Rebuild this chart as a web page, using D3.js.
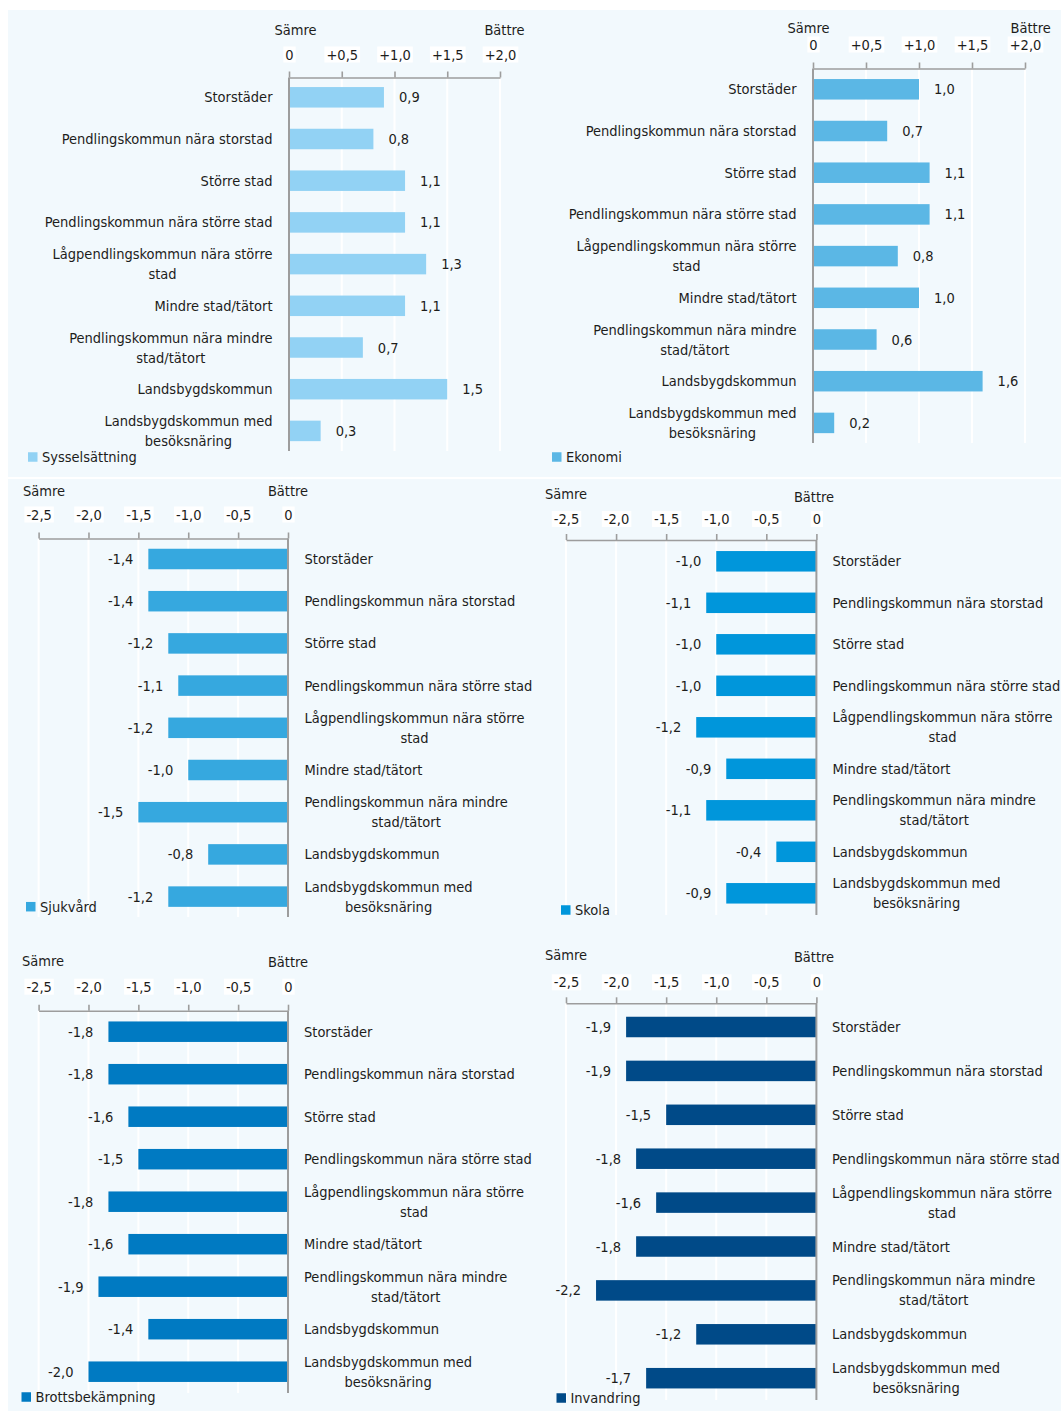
<!DOCTYPE html>
<html><head><meta charset="utf-8">
<script src="https://cdn.jsdelivr.net/npm/d3@7"></script>
<style>
body{margin:0;background:#fff;}
svg{display:block;}
text{font-family:"DejaVu Sans Condensed","Liberation Sans Narrow",sans-serif;font-size:14.5px;fill:#1d1d1b;}
</style></head><body>
<svg id="chart" width="1061" height="1411"></svg>
<script>
const categories = ["Storstäder","Pendlingskommun nära storstad","Större stad","Pendlingskommun nära större stad","Lågpendlingskommun nära större stad","Mindre stad/tätort","Pendlingskommun nära mindre stad/tätort","Landsbygdskommun","Landsbygdskommun med besöksnäring"];
const sysselsattning = [0.9,0.8,1.1,1.1,1.3,1.1,0.7,1.5,0.3];
const ekonomi        = [1.0,0.7,1.1,1.1,0.8,1.0,0.6,1.6,0.2];
const sjukvard       = [-1.4,-1.4,-1.2,-1.1,-1.2,-1.0,-1.5,-0.8,-1.2];
const skola          = [-1.0,-1.1,-1.0,-1.0,-1.2,-0.9,-1.1,-0.4,-0.9];
const brottsbekampning = [-1.8,-1.8,-1.6,-1.5,-1.8,-1.6,-1.9,-1.4,-2.0];
const invandring     = [-1.9,-1.9,-1.5,-1.8,-1.6,-1.8,-2.2,-1.2,-1.7];
const seriesNames = ["Sysselsättning","Ekonomi","Sjukvård","Skola","Brottsbekämpning","Invandring"];
const positiveTicks = [0,0.5,1,1.5,2];
const positiveTickLabels = ["0","+0,5","+1,0","+1,5","+2,0"];
const negativeTicks = [-2.5,-2,-1.5,-1,-0.5,0];
const negativeTickLabels = ["-2,5","-2,0","-1,5","-1,0","-0,5","0"];
const worseLabel = "Sämre";
const betterLabel = "Bättre";

const panels = [
 {name:seriesNames[0], values:sysselsattning, color:"#92d2f4", pos:true,  x0:289,  x1:500,   axisY:77.5,  tdy:23, worse:[295.5,30],  better:[504.5,30],  firstY:97.3,  step:41.7, bottom:451,  labelX:272.5, legend:[28,457]},
 {name:seriesNames[1], values:ekonomi,        color:"#5bb7e5", pos:true,  x0:813,  x1:1025,  axisY:68.5,  tdy:24, worse:[808.6,28],  better:[1030.6,28], firstY:89.3,  step:41.7, bottom:443,  labelX:796.5, legend:[552,457]},
 {name:seriesNames[2], values:sjukvard,       color:"#36a8df", pos:false, x0:38.6, x1:288,   axisY:538.5, tdy:24, worse:[44,491],    better:[288,491],   firstY:559,   step:42.2, bottom:917,  labelX:304.5, legend:[26,906.7]},
 {name:seriesNames[3], values:skola,          color:"#0096db", pos:false, x0:566,  x1:816.4, axisY:540,   tdy:21, worse:[566,494],   better:[814,497],   firstY:561.3, step:41.5, bottom:915,  labelX:832.5, legend:[561,910]},
 {name:seriesNames[4], values:brottsbekampning,color:"#007ac2",pos:false, x0:38.6, x1:288,   axisY:1010.7,tdy:24, worse:[43,961],    better:[288,962],   firstY:1031.7,step:42.5, bottom:1393, labelX:304,   legend:[21.5,1397]},
 {name:seriesNames[5], values:invandring,     color:"#004a88", pos:false, x0:566,  x1:816.4, axisY:1003.3,tdy:21, worse:[566,955],   better:[814,956.7], firstY:1027,  step:43.9, bottom:1400, labelX:832,   legend:[556.5,1398]}
];

const svg = d3.select("#chart");
const bg = "#f2f9fd";
svg.append("rect").attr("x",8).attr("y",10).attr("width",1053).attr("height",467).attr("fill",bg);
svg.append("rect").attr("x",8).attr("y",479).attr("width",1053).attr("height",932).attr("fill",bg);

const fmt = v => v.toFixed(1).replace(".",",");
const WRAP = 236;

function wrapLines(g, str){
  const words = str.split(" ");
  const lines = [];
  let cur = "";
  const probe = g.append("text").attr("visibility","hidden");
  words.forEach(w=>{
    const t = cur ? cur+" "+w : w;
    probe.text(t);
    if (probe.node().getComputedTextLength() > WRAP && cur){ lines.push(cur); cur = w; }
    else cur = t;
  });
  lines.push(cur);
  probe.remove();
  return lines;
}

panels.forEach(p=>{
  const g = svg.append("g");
  const ticks = p.pos ? positiveTicks : negativeTicks;
  const tickLabels = p.pos ? positiveTickLabels : negativeTickLabels;
  const x = d3.scaleLinear().domain(p.pos ? [0,2] : [-2.5,0]).range([p.x0,p.x1]);
  const y = d3.scalePoint().domain(categories).range([p.firstY, p.firstY + 8*p.step]);

  // grid
  g.selectAll("line.grid").data(ticks.filter(t=>t!==0)).join("line")
    .attr("x1",d=>x(d)).attr("x2",d=>x(d)).attr("y1",p.axisY).attr("y2",p.bottom)
    .attr("stroke","#ffffff").attr("stroke-width",2);

  // bars
  g.selectAll("rect.bar").data(p.values).join("rect")
    .attr("x",d=>Math.min(x(0),x(d))).attr("width",d=>Math.abs(x(d)-x(0)))
    .attr("y",(d,i)=>y(categories[i])-10.25).attr("height",20.5)
    .attr("fill",p.color);

  // zero line
  g.append("line").attr("x1",x(0)).attr("x2",x(0)).attr("y1",p.axisY).attr("y2",p.bottom)
    .attr("stroke","#9d9d9d").attr("stroke-width",2);

  // axis
  const axis = d3.axisTop(x).tickValues(ticks).tickFormat((d,i)=>tickLabels[i]).tickSize(6).tickSizeOuter(0);
  const ag = g.append("g").attr("transform",`translate(0,${p.axisY})`).call(axis);
  ag.attr("font-family",null).attr("font-size",null);
  ag.select(".domain").attr("stroke","#9d9d9d").attr("stroke-width",1.6);
  ag.selectAll(".tick line").attr("stroke","#9d9d9d").attr("stroke-width",1.6);
  ag.selectAll(".tick text").attr("y",-p.tdy).attr("dy","0.35em").attr("fill","#1d1d1b");
  ag.selectAll(".tick").each(function(){
    const t = d3.select(this).select("text");
    const b = t.node().getBBox();
    d3.select(this).insert("rect","text").attr("x",b.x-2).attr("y",-p.tdy-8).attr("width",b.width+4).attr("height",16).attr("fill","#ffffff");
  });

  // worse / better
  g.append("text").attr("x",p.worse[0]).attr("y",p.worse[1]).attr("dy","0.35em").attr("text-anchor","middle").text(worseLabel);
  g.append("text").attr("x",p.better[0]).attr("y",p.better[1]).attr("dy","0.35em").attr("text-anchor","middle").text(betterLabel);

  // value labels
  g.selectAll("text.val").data(p.values).join("text")
    .attr("x",d=> p.pos ? x(d)+15 : x(d)-15)
    .attr("y",(d,i)=>y(categories[i])).attr("dy","0.35em")
    .attr("text-anchor",p.pos?"start":"end").text(d=>fmt(d));

  // category labels
  categories.forEach(c=>{
    const lines = wrapLines(g,c);
    const tg = g.append("g");
    const texts = lines.map((ln,j)=> tg.append("text").attr("y", y(c) + (j-(lines.length-1)/2)*20).attr("dy","0.35em").attr("text-anchor","middle").text(ln));
    const w = d3.max(texts, t=>t.node().getComputedTextLength());
    const cx = p.pos ? p.labelX - w/2 : p.labelX + w/2;
    texts.forEach(t=>t.attr("x",cx));
  });

  // legend
  g.append("rect").attr("x",p.legend[0]).attr("y",p.legend[1]-4.75).attr("width",9.5).attr("height",9.5).attr("fill",p.color);
  g.append("text").attr("x",p.legend[0]+14).attr("y",p.legend[1]).attr("dy","0.35em").text(p.name);
});
</script>
</body></html>
